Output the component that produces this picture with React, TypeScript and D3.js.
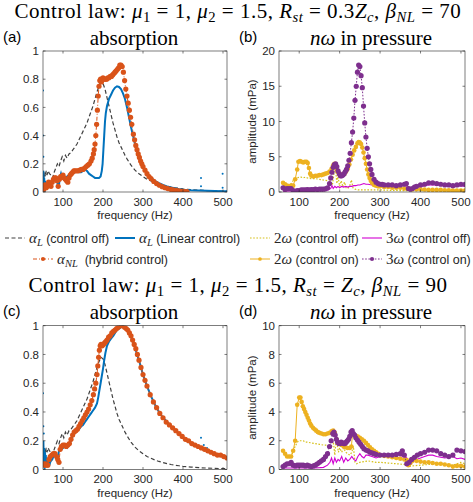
import React, { useEffect, useRef } from 'react';
import * as d3 from 'd3';

type Pt = [number, number];
type Part = [string, string?];

const WIDTH = 473;
const HEIGHT = 502;

const freqDomain = [50, 510];
const freqTicks = [100, 200, 300, 400, 500];
const absorptionTicks = [0, 0.2, 0.4, 0.6, 0.8, 1];
const pressureTicksTop = [0, 5, 10, 15, 20];
const pressureTicksBottom = [0, 2, 4, 6, 8, 10];

// absorption without control (same measurement in both absorption panels)
const alphaOff: Pt[] = [[50,0.15],[52,0.1],[54,0.14],[56,0.11],[58,0.15],[60,0.12],[63,0.15],[66,0.13],[70,0.12],[74,0.1],[78,0.14],[82,0.17],[86,0.2],[90,0.18],[94,0.22],[98,0.25],[102,0.22],[106,0.26],[110,0.24],[115,0.27],[120,0.28],[125,0.3],[130,0.32],[135,0.34],[140,0.37],[145,0.4],[150,0.43],[155,0.46],[160,0.49],[165,0.53],[170,0.57],[175,0.61],[180,0.66],[185,0.71],[190,0.75],[195,0.78],[200,0.77],[205,0.73],[210,0.67],[215,0.61],[220,0.55],[225,0.49],[230,0.44],[235,0.39],[240,0.35],[245,0.32],[250,0.29],[255,0.26],[260,0.235],[270,0.19],[280,0.155],[290,0.13],[300,0.11],[310,0.09],[320,0.078],[330,0.066],[340,0.056],[350,0.048],[360,0.041],[370,0.035],[380,0.03],[390,0.026],[400,0.022],[420,0.017],[440,0.013],[460,0.01],[480,0.008],[500,0.006],[510,0.005]];

// (a) R_st = 0.3 Zc, beta_NL = 70
const alphaLinA: Pt[] = [[50,0.05],[51,0.15],[52,0.02],[53,0.1],[54,0.0],[55,0.08],[56,0.02],[58,0.06],[60,0.03],[62,0.05],[65,0.04],[68,0.06],[72,0.07],[76,0.08],[80,0.09],[83,0.1],[86,0.07],[88,0.03],[90,0.05],[92,0.1],[95,0.13],[98,0.1],[102,0.09],[106,0.1],[110,0.11],[115,0.12],[120,0.13],[125,0.14],[130,0.14],[135,0.145],[140,0.14],[145,0.14],[150,0.15],[155,0.16],[160,0.15],[165,0.13],[170,0.12],[175,0.11],[180,0.1],[185,0.1],[190,0.1],[194,0.11],[197,0.15],[199,0.2],[201,0.3],[203,0.4],[205,0.5],[207,0.56],[210,0.61],[215,0.66],[220,0.69],[225,0.72],[230,0.74],[235,0.75],[240,0.745],[245,0.73],[250,0.7],[255,0.66],[260,0.6],[265,0.53],[270,0.46],[275,0.4],[280,0.34],[285,0.29],[290,0.25],[295,0.21],[300,0.18],[310,0.13],[320,0.1],[330,0.08],[340,0.062],[350,0.05],[360,0.04],[370,0.032],[380,0.026],[390,0.02],[400,0.016],[420,0.012],[440,0.01],[460,0.008],[480,0.007],[500,0.006],[510,0.005]];
const strayLinA: Pt[] = [[50,0.72],[50,0.4],[51,0.25],[445,0.1],[445,0.04],[499,0.13],[499,0.03]];
const alphaNLA: Pt[] = [[52,0.02],[55,0.05],[58,0.03],[61,0.04],[64,0.07],[67,0.05],[70,0.04],[73,0.07],[76,0.09],[79,0.1],[82,0.1],[85,0.08],[88,0.04],[91,0.09],[94,0.11],[97,0.11],[100,0.12],[103,0.1],[106,0.09],[109,0.08],[112,0.07],[115,0.1],[118,0.12],[121,0.13],[124,0.14],[127,0.15],[130,0.15],[134,0.15],[138,0.15],[142,0.155],[146,0.16],[150,0.16],[154,0.17],[158,0.18],[162,0.19],[166,0.2],[170,0.22],[173,0.24],[176,0.27],[178,0.3],[180,0.34],[182,0.4],[184,0.48],[186,0.58],[188,0.68],[190,0.75],[192,0.79],[194,0.8],[196,0.78],[198,0.8],[200,0.81],[203,0.8],[206,0.8],[209,0.8],[212,0.81],[215,0.81],[218,0.82],[221,0.82],[224,0.83],[227,0.84],[230,0.85],[233,0.86],[236,0.87],[239,0.88],[242,0.9],[245,0.9],[248,0.89],[251,0.85],[254,0.79],[257,0.73],[260,0.68],[263,0.63],[266,0.58],[269,0.53],[272,0.48],[276,0.41],[279,0.37],[282,0.33],[285,0.3],[288,0.27],[291,0.245],[294,0.22],[297,0.2],[300,0.18],[305,0.155],[310,0.13],[315,0.11],[320,0.095],[327,0.075],[334,0.06],[341,0.048],[348,0.038],[355,0.03],[362,0.024],[369,0.019],[376,0.015],[383,0.011],[390,0.008],[397,0.005],[404,0.003],[410,0.002]];

// (b) harmonics in pressure, beta_NL = 70
const h2OffB: Pt[] = [[60,1.3],[65,1.1],[70,0.9],[75,0.8],[80,1.2],[85,1.6],[90,1.8],[95,2.0],[100,2.1],[105,2.1],[110,2.0],[115,2.1],[120,2.0],[130,1.9],[140,1.9],[150,1.8],[160,1.7],[170,1.6],[178,1.5],[182,1.0],[186,2.6],[190,3.3],[193,1.2],[196,2.2],[200,0.8],[204,1.6],[208,0.7],[212,1.4],[216,0.6],[220,0.5],[225,0.9],[229,1.7],[233,0.6],[238,0.4],[245,0.3],[260,0.3],[280,0.3],[300,0.3],[320,0.25],[350,0.2],[370,0.2],[400,0.2],[430,0.2],[460,0.2],[490,0.2],[510,0.2]];
const h2OnB: Pt[] = [[60,1.3],[65,1.1],[70,0.9],[75,0.8],[80,0.9],[85,0.9],[90,1.8],[95,3.2],[98,4.3],[102,4.4],[106,4.3],[110,4.2],[114,4.3],[118,4.3],[121,4.1],[124,3.4],[127,2.6],[130,2.3],[135,2.2],[140,2.3],[145,2.3],[150,2.4],[155,2.4],[160,2.5],[165,2.6],[170,2.7],[175,2.9],[180,3.3],[184,3.8],[187,4.0],[190,3.7],[193,3.2],[196,2.8],[200,2.5],[204,2.4],[208,2.5],[212,2.6],[216,2.9],[220,3.3],[224,3.9],[228,4.6],[232,5.3],[236,5.9],[240,6.4],[244,6.9],[247,7.1],[250,7.0],[253,6.8],[256,6.3],[259,5.6],[262,4.8],[265,4.0],[268,3.2],[271,2.5],[274,2.0],[277,1.6],[280,1.3],[285,1.0],[290,0.9],[295,0.8],[300,0.8],[310,0.7],[320,0.7],[330,0.6],[340,0.6],[350,0.6],[360,0.5],[370,0.5],[380,0.4],[390,0.4],[400,0.4],[410,0.35],[420,0.3],[430,0.3],[440,0.3],[450,0.3],[460,0.25],[470,0.25],[480,0.2],[490,0.2],[500,0.2],[510,0.2]];
const h3OffB: Pt[] = [[60,0.1],[80,0.15],[100,0.2],[120,0.2],[140,0.2],[160,0.25],[172,0.3],[178,0.5],[181,0.9],[184,0.5],[188,0.8],[192,0.6],[196,0.8],[200,0.6],[205,0.8],[210,0.7],[215,0.8],[220,0.7],[225,0.8],[230,0.8],[235,0.9],[240,0.9],[245,1.0],[250,1.0],[255,1.1],[260,1.2],[265,1.1],[270,1.1],[280,1.0],[290,1.0],[300,1.0],[310,1.0],[320,1.0],[330,0.95],[340,0.9],[350,0.95],[360,1.0],[365,0.9],[370,0.5],[375,0.5],[380,0.6],[390,0.7],[400,0.8],[410,0.9],[420,1.0],[430,1.0],[440,1.0],[450,0.95],[460,0.9],[470,0.85],[480,0.8],[490,0.85],[500,0.9],[510,0.8]];
const h3OnB: Pt[] = [[60,0.6],[65,0.4],[70,0.5],[75,0.5],[80,0.5],[85,0.2],[90,0.1],[95,0.2],[100,0.2],[105,0.3],[110,0.3],[115,0.3],[120,0.35],[125,0.3],[130,0.35],[135,0.35],[140,0.4],[145,0.35],[150,0.4],[155,0.4],[160,0.4],[165,0.45],[170,0.6],[175,1.2],[178,2.0],[181,2.8],[184,3.5],[187,3.9],[190,4.0],[193,3.6],[196,3.0],[199,2.6],[202,2.3],[205,2.3],[208,2.4],[211,2.6],[214,2.9],[217,3.2],[220,3.7],[223,4.5],[226,5.5],[229,7.0],[232,8.5],[235,10.5],[238,13.0],[241,15.0],[244,17.0],[247,18.0],[250,17.8],[253,16.5],[256,14.8],[259,12.2],[262,9.8],[265,7.8],[268,6.2],[271,5.0],[274,4.0],[277,3.2],[280,2.5],[285,1.8],[290,1.4],[295,1.2],[300,1.1],[305,1.1],[310,1.0],[320,1.0],[330,1.0],[340,0.9],[350,1.0],[360,1.1],[365,1.2],[370,0.5],[375,0.4],[380,0.5],[385,0.7],[390,0.8],[400,1.0],[410,1.1],[420,1.3],[430,1.3],[440,1.2],[450,1.1],[460,1.0],[470,1.0],[480,0.9],[490,1.0],[500,1.1],[510,1.1]];

// (c) R_st = Zc, beta_NL = 90
const alphaLinC: Pt[] = [[50,0.1],[51,0.2],[52,0.03],[53,0.15],[54,0.0],[55,0.12],[56,0.05],[57,0.1],[58,0.02],[60,0.08],[62,0.04],[64,0.06],[66,0.03],[68,0.05],[70,0.06],[73,0.07],[76,0.09],[80,0.1],[83,0.08],[86,0.06],[88,0.1],[90,0.13],[93,0.15],[96,0.14],[100,0.15],[105,0.16],[110,0.15],[115,0.17],[120,0.2],[125,0.24],[130,0.26],[135,0.27],[140,0.28],[145,0.3],[150,0.31],[155,0.33],[160,0.35],[165,0.37],[170,0.39],[175,0.41],[180,0.43],[185,0.46],[188,0.5],[191,0.55],[194,0.6],[197,0.65],[200,0.7],[203,0.76],[206,0.81],[210,0.86],[215,0.89],[220,0.91],[226,0.93],[230,0.95],[235,0.97],[240,0.98],[245,0.99],[250,1.0],[255,0.99],[260,0.97],[265,0.95],[270,0.92],[275,0.89],[280,0.85],[285,0.8],[290,0.76],[295,0.71],[300,0.66],[310,0.58],[320,0.51],[330,0.45],[340,0.4],[350,0.36],[360,0.33],[370,0.3],[380,0.27],[390,0.25],[400,0.22],[410,0.2],[420,0.18],[430,0.17],[440,0.15],[450,0.14],[460,0.13],[470,0.12],[480,0.11],[490,0.1],[500,0.09],[510,0.08]];
const strayLinC: Pt[] = [[50,0.53],[51,0.3],[52,0.25],[445,0.22],[452,0.17],[460,0.15]];
const alphaNLC: Pt[] = [[50,0.04],[53,0.03],[56,0.04],[59,0.03],[62,0.03],[65,0.07],[68,0.09],[72,0.1],[76,0.11],[80,0.11],[84,0.09],[87,0.07],[90,0.05],[93,0.14],[96,0.16],[100,0.17],[104,0.17],[108,0.16],[112,0.17],[116,0.18],[120,0.21],[124,0.24],[128,0.26],[132,0.27],[136,0.28],[140,0.3],[144,0.32],[148,0.34],[152,0.36],[156,0.38],[160,0.4],[164,0.42],[168,0.45],[172,0.48],[176,0.52],[179,0.56],[182,0.6],[185,0.66],[187,0.72],[189,0.78],[191,0.83],[193,0.86],[195,0.87],[198,0.86],[201,0.87],[204,0.88],[207,0.89],[210,0.9],[214,0.92],[218,0.93],[222,0.95],[226,0.96],[230,0.97],[234,0.98],[238,0.99],[242,1.0],[246,1.0],[250,1.0],[254,0.99],[258,0.98],[262,0.97],[266,0.95],[270,0.93],[274,0.9],[278,0.87],[282,0.84],[286,0.8],[290,0.76],[295,0.71],[300,0.66],[305,0.62],[310,0.58],[318,0.52],[326,0.47],[334,0.43],[342,0.39],[350,0.36],[358,0.33],[366,0.31],[374,0.29],[382,0.27],[390,0.25],[398,0.23],[406,0.21],[414,0.2],[422,0.18],[430,0.17],[438,0.16],[446,0.15],[454,0.14],[462,0.13],[470,0.12],[478,0.11],[486,0.1],[494,0.1],[502,0.09],[510,0.08]];

// (d) harmonics in pressure, beta_NL = 90
const h2OffD: Pt[] = [[60,1.2],[65,1.0],[70,0.9],[75,0.9],[80,0.9],[85,1.3],[90,1.6],[95,1.9],[100,2.0],[105,2.0],[110,2.0],[115,1.9],[120,1.9],[130,1.85],[140,1.8],[150,1.75],[160,1.7],[170,1.7],[180,1.6],[185,1.8],[188,1.0],[191,2.0],[194,1.7],[197,1.2],[200,1.5],[205,1.2],[210,1.5],[215,1.2],[220,1.1],[225,1.0],[230,1.2],[234,1.6],[238,0.5],[242,0.4],[250,0.5],[260,0.55],[270,0.6],[280,0.55],[290,0.5],[300,0.5],[320,0.45],[340,0.4],[360,0.35],[370,0.2],[380,0.25],[400,0.3],[420,0.35],[440,0.4],[460,0.35],[480,0.3],[490,0.4],[500,0.5],[510,0.4]];
const h2OnD: Pt[] = [[60,1.3],[65,1.1],[70,0.9],[75,0.9],[80,0.9],[85,1.3],[90,2.0],[95,4.5],[100,5.0],[103,5.0],[106,4.7],[109,4.4],[112,4.2],[115,4.0],[118,3.8],[121,3.6],[124,3.4],[127,3.2],[130,3.05],[134,2.9],[138,2.8],[142,2.7],[146,2.6],[150,2.55],[155,2.5],[160,2.45],[165,2.45],[170,2.5],[175,2.55],[180,2.65],[184,2.7],[188,2.55],[192,2.1],[196,1.9],[200,1.8],[205,1.7],[210,1.6],[215,1.55],[220,1.5],[225,1.5],[229,1.6],[232,2.5],[236,2.4],[240,2.35],[245,2.3],[250,2.2],[255,2.1],[260,2.0],[265,1.85],[270,1.7],[275,1.55],[280,1.4],[285,1.3],[290,1.2],[295,1.1],[300,1.0],[310,0.95],[320,0.9],[330,0.85],[340,0.8],[350,0.75],[360,0.7],[366,0.65],[370,0.3],[375,0.45],[380,0.6],[390,0.6],[400,0.55],[410,0.5],[420,0.5],[430,0.45],[440,0.4],[450,0.4],[460,0.35],[470,0.3],[480,0.2],[490,0.25],[500,0.25],[510,0.2]];
const h3OffD: Pt[] = [[60,0.1],[80,0.1],[100,0.1],[120,0.1],[140,0.1],[160,0.15],[170,0.3],[176,0.5],[180,0.8],[184,0.4],[188,0.8],[192,0.5],[196,0.7],[200,0.6],[205,0.9],[210,0.5],[215,0.8],[220,0.6],[225,0.7],[230,0.9],[235,0.7],[240,0.6],[245,0.9],[250,1.1],[255,0.9],[260,0.8],[265,1.0],[270,1.0],[280,0.9],[290,0.8],[300,0.9],[310,0.9],[320,0.9],[330,0.85],[340,0.8],[350,0.85],[360,0.9],[366,0.8],[370,0.5],[375,0.5],[380,0.6],[390,0.7],[400,0.8],[410,0.9],[420,1.0],[430,1.0],[440,0.9],[450,0.85],[460,0.8],[470,0.85],[480,0.9],[490,0.75],[500,0.8],[510,0.7]];
const h3OnD: Pt[] = [[60,0.2],[65,0.3],[70,0.4],[75,0.4],[80,0.5],[85,0.3],[90,0.25],[95,0.3],[100,0.3],[105,0.3],[110,0.3],[115,0.25],[120,0.3],[125,0.25],[130,0.2],[135,0.25],[140,0.3],[145,0.4],[150,0.5],[155,0.6],[160,0.7],[165,0.9],[170,1.1],[175,1.6],[179,2.0],[183,2.5],[186,2.6],[189,2.4],[192,2.1],[195,1.9],[198,1.8],[201,1.8],[204,1.9],[207,1.85],[210,1.8],[213,1.8],[216,1.9],[219,2.0],[222,2.1],[225,2.3],[228,2.6],[231,2.7],[234,2.5],[237,2.4],[240,2.2],[244,2.05],[248,1.9],[252,1.75],[256,1.6],[260,1.45],[265,1.35],[270,1.3],[275,1.2],[280,1.15],[285,1.1],[290,1.05],[300,1.0],[310,1.0],[320,1.0],[330,1.0],[340,1.05],[350,1.1],[355,1.3],[360,1.0],[366,0.4],[372,0.5],[378,0.7],[385,0.85],[392,1.0],[400,1.1],[410,1.2],[420,1.35],[430,1.35],[440,1.3],[450,1.1],[460,1.0],[470,0.9],[480,1.0],[490,1.35],[500,1.3],[510,1.25]];

const SERIF = 'Liberation Serif, serif';
const SANS = 'Liberation Sans, Arial, sans-serif';
const AXIS = '#262626';
const TITLE_SIZE = 21;

type Style = { color: string; width: number; dash?: string; r?: number };
const styles: Record<string, Style> = {
  off: { color: '#404040', width: 1.2, dash: '4,2.5' },
  lin: { color: '#0072BD', width: 2 },
  nl: { color: '#D95319', width: 1, dash: '4,2,1,2', r: 2.6 },
  h2off: { color: '#D6C01A', width: 1.2, dash: '1.6,1.6' },
  h2on: { color: '#EDB120', width: 1, r: 2.3 },
  h3off: { color: '#D100D1', width: 1.1 },
  h3on: { color: '#7E2F8E', width: 1, dash: '1.6,1.6', r: 2.6 },
};

// text with italic / subscript pieces, flags: i = italic, s = subscript, n = sans
function richText(sel: any, parts: Part[], size: number, sansSize = size) {
  let shift = 0;
  parts.forEach(([t, f = '']) => {
    const sub = f.includes('s');
    const sans = f.includes('n');
    const base = sans ? sansSize : size;
    const target = sub ? base * 0.2 : 0;
    sel.append('tspan')
      .attr('dy', target - shift)
      .attr('font-size', sub ? base * 0.7 : base)
      .attr('font-style', f.includes('i') ? 'italic' : 'normal')
      .attr('font-family', sans ? SANS : SERIF)
      .text(t);
    shift = target;
  });
}

const titleTop: Part[] = [['Control law: '], ['μ', 'i'], ['1', 's'], [' = 1, '], ['μ', 'i'], ['2', 's'], [' = 1.5, '], ['R', 'i'], ['st', 'is'], [' = 0.3'], ['Z', 'i'], ['c', 'is'], [', '], ['β', 'i'], ['NL', 'is'], [' = 70']];
const titleBottom: Part[] = [['Control law: '], ['μ', 'i'], ['1', 's'], [' = 1, '], ['μ', 'i'], ['2', 's'], [' = 1.5, '], ['R', 'i'], ['st', 'is'], [' = '], ['Z', 'i'], ['c', 'is'], [', '], ['β', 'i'], ['NL', 'is'], [' = 90']];
const absTitle: Part[] = [['absorption']];
const presTitle: Part[] = [['n', 'i'], ['ω', 'i'], [' in pressure']];

type Series = { style: string; data: Pt[]; stray?: Pt[] };
type Panel = {
  id: string; tag: string; left: number; top: number; w: number; h: number;
  yMax: number; yTicks: number[]; title: Part[]; ylabel?: string; series: Series[];
};

const panels: Panel[] = [
  { id: 'a', tag: '(a)', left: 43, top: 51, w: 184, h: 141, yMax: 1, yTicks: absorptionTicks, title: absTitle,
    series: [{ style: 'off', data: alphaOff }, { style: 'lin', data: alphaLinA, stray: strayLinA }, { style: 'nl', data: alphaNLA }] },
  { id: 'b', tag: '(b)', left: 279, top: 51, w: 186, h: 141, yMax: 20, yTicks: pressureTicksTop, title: presTitle, ylabel: 'amplitude (mPa)',
    series: [{ style: 'h2off', data: h2OffB }, { style: 'h3off', data: h3OffB }, { style: 'h2on', data: h2OnB }, { style: 'h3on', data: h3OnB }] },
  { id: 'c', tag: '(c)', left: 43, top: 325.7, w: 184, h: 143.8, yMax: 1, yTicks: absorptionTicks, title: absTitle,
    series: [{ style: 'off', data: alphaOff }, { style: 'lin', data: alphaLinC, stray: strayLinC }, { style: 'nl', data: alphaNLC }] },
  { id: 'd', tag: '(d)', left: 279, top: 325.7, w: 186, h: 143.8, yMax: 10, yTicks: pressureTicksBottom, title: presTitle, ylabel: 'amplitude (mPa)',
    series: [{ style: 'h2off', data: h2OffD }, { style: 'h3off', data: h3OffD }, { style: 'h2on', data: h2OnD }, { style: 'h3on', data: h3OnD }] },
];

const legendItems: { style: string; x: number; y: number; label: Part[] }[] = [
  { style: 'off', x: 5, y: 238, label: [['α', 'i'], ['L', 'is'], [' (control off)', 'n']] },
  { style: 'lin', x: 115, y: 238, label: [['α', 'i'], ['L', 'is'], [' (Linear control)', 'n']] },
  { style: 'h2off', x: 250, y: 238, label: [['2'], ['ω', 'i'], [' (control off)', 'n']] },
  { style: 'h3off', x: 362, y: 238, label: [['3'], ['ω', 'i'], [' (control off)', 'n']] },
  { style: 'nl', x: 33, y: 259, label: [['α', 'i'], ['NL', 'is'], ['  (hybrid control)', 'n']] },
  { style: 'h2on', x: 250, y: 259, label: [['2'], ['ω', 'i'], [' (control on)', 'n']] },
  { style: 'h3on', x: 362, y: 259, label: [['3'], ['ω', 'i'], [' (control on)', 'n']] },
];

function styled(sel: any, st: Style) {
  return sel.attr('fill', 'none').attr('stroke', st.color).attr('stroke-width', st.width)
    .attr('stroke-dasharray', st.dash || null);
}

function drawPanel(svg: any, p: Panel) {
  const x = d3.scaleLinear().domain(freqDomain).range([p.left, p.left + p.w]);
  const y = d3.scaleLinear().domain([0, p.yMax]).range([p.top + p.h, p.top]);
  const g = svg.append('g');

  g.append('clipPath').attr('id', 'clip-' + p.id)
    .append('rect').attr('x', p.left).attr('y', p.top).attr('width', p.w).attr('height', p.h);
  const plot = g.append('g').attr('clip-path', `url(#clip-${p.id})`);
  const line = d3.line<Pt>().x(d => x(d[0])).y(d => y(d[1]));

  p.series.forEach(s => {
    const st = styles[s.style];
    styled(plot.append('path').datum(s.data).attr('d', line), st);
    if (st.r) {
      plot.append('g').attr('fill', st.color).selectAll('circle').data(s.data).join('circle')
        .attr('cx', (d: Pt) => x(d[0])).attr('cy', (d: Pt) => y(d[1])).attr('r', st.r);
    }
    if (s.stray) {
      plot.append('g').attr('fill', st.color).selectAll('circle').data(s.stray).join('circle')
        .attr('cx', (d: Pt) => x(d[0])).attr('cy', (d: Pt) => y(d[1])).attr('r', 1);
    }
  });

  // axes box and inward ticks
  g.append('rect').attr('x', p.left).attr('y', p.top).attr('width', p.w).attr('height', p.h)
    .attr('fill', 'none').attr('stroke', AXIS).attr('stroke-width', 0.6);
  const tl = 2.5;
  const ticks = g.append('g').attr('stroke', AXIS).attr('stroke-width', 0.6);
  freqTicks.forEach(t => {
    ticks.append('line').attr('x1', x(t)).attr('x2', x(t)).attr('y1', p.top + p.h).attr('y2', p.top + p.h - tl);
    ticks.append('line').attr('x1', x(t)).attr('x2', x(t)).attr('y1', p.top).attr('y2', p.top + tl);
  });
  p.yTicks.forEach(t => {
    ticks.append('line').attr('x1', p.left).attr('x2', p.left + tl).attr('y1', y(t)).attr('y2', y(t));
    ticks.append('line').attr('x1', p.left + p.w).attr('x2', p.left + p.w - tl).attr('y1', y(t)).attr('y2', y(t));
  });

  const lab = g.append('g').attr('font-family', SANS).attr('font-size', 11.5).attr('fill', AXIS);
  lab.selectAll('.xt').data(freqTicks).join('text').attr('class', 'xt')
    .attr('x', (d: number) => x(d)).attr('y', p.top + p.h + 13.5).attr('text-anchor', 'middle').text((d: number) => d);
  lab.selectAll('.yt').data(p.yTicks).join('text').attr('class', 'yt')
    .attr('x', p.left - 4).attr('y', (d: number) => y(d) + 4.1).attr('text-anchor', 'end')
    .text((d: number) => (p.yMax === 1 && d > 0 && d < 1 ? d.toFixed(1) : String(d)));
  lab.append('text').attr('x', p.left + p.w / 2).attr('y', p.top + p.h + 27)
    .attr('text-anchor', 'middle').text('frequency (Hz)');
  if (p.ylabel) {
    lab.append('text').attr('transform', `translate(${p.left - 23},${p.top + p.h / 2}) rotate(-90)`)
      .attr('text-anchor', 'middle').text(p.ylabel);
  }

  // panel tag and title
  svg.append('text').attr('x', p.left - 40).attr('y', p.top - 9.5)
    .attr('font-family', SANS).attr('font-size', 15).attr('fill', '#000').text(p.tag);
  const t = svg.append('text').attr('x', p.left + p.w / 2 - 1).attr('y', p.top - 6.5)
    .attr('text-anchor', 'middle').attr('fill', '#000').style('white-space', 'pre');
  richText(t, p.title, TITLE_SIZE);
}

function drawLegend(svg: any) {
  const g = svg.append('g');
  legendItems.forEach(it => {
    const st = styles[it.style];
    const len = 20;
    styled(g.append('line').attr('x1', it.x).attr('x2', it.x + len).attr('y1', it.y).attr('y2', it.y), st);
    if (st.r) {
      g.append('circle').attr('cx', it.x + len / 2).attr('cy', it.y).attr('r', st.r * 0.8).attr('fill', st.color);
    }
    const t = g.append('text').attr('x', it.x + len + 4).attr('y', it.y + 4.5)
      .attr('fill', AXIS).style('white-space', 'pre');
    richText(t, it.label, 15, 12.5);
  });
}

export default function App() {
  const ref = useRef<SVGSVGElement>(null);

  useEffect(() => {
    const svg = d3.select(ref.current);
    svg.selectAll('*').remove();
    svg.append('rect').attr('width', WIDTH).attr('height', HEIGHT).attr('fill', '#fff');

    const top = svg.append('text').attr('x', 238).attr('y', 17.5).attr('text-anchor', 'middle')
      .attr('fill', '#000').attr('letter-spacing', 0.5).style('white-space', 'pre');
    richText(top, titleTop, TITLE_SIZE);
    const bottom = svg.append('text').attr('x', 238).attr('y', 292).attr('text-anchor', 'middle')
      .attr('fill', '#000').attr('letter-spacing', 0.5).style('white-space', 'pre');
    richText(bottom, titleBottom, TITLE_SIZE);

    panels.forEach(p => drawPanel(svg, p));
    drawLegend(svg);
  }, []);

  return (
    <svg ref={ref} width={WIDTH} height={HEIGHT}
      style={{ position: 'absolute', left: 0, top: 0, display: 'block' }} />
  );
}
